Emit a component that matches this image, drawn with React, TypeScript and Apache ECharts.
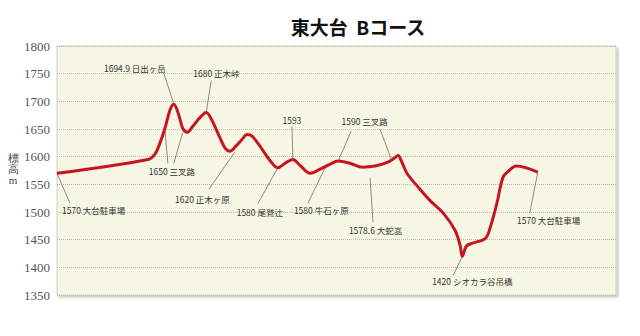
import React, { useEffect, useRef } from "react";
import * as echarts from "echarts";

// Course distance (arbitrary units, 0..100 across the plot) and elevation (m)
const distance = [0, 16.3, 17.5, 18.4, 19.3, 20.2, 20.9, 21.8, 22.5, 23.3, 24.3, 25.6, 26.7, 27.7, 29.2, 30.1, 30.9, 32.0, 33.1, 34.0, 34.9, 36.3, 38.1, 39.5, 40.8, 42.2, 43.5, 45.3, 47.0, 48.8, 50.3, 52.4, 54.7, 56.9, 59.2, 60.3, 61.0, 61.7, 62.6, 64.6, 66.7, 69.1, 71.2, 72.1, 72.5, 73.2, 74.1, 76.6, 77.5, 78.7, 79.8, 80.9, 82.1, 86.0];
const elevation = [1570, 1595, 1604, 1624, 1651, 1684, 1694.9, 1675, 1651, 1644, 1655, 1671, 1680, 1666, 1633, 1615, 1610, 1619, 1631, 1640, 1637, 1619, 1593, 1580, 1588, 1595, 1584, 1570, 1577, 1586, 1592, 1588, 1581, 1583, 1590, 1597, 1602, 1590, 1570, 1545, 1521, 1498, 1467, 1440, 1420, 1438, 1443, 1452, 1472, 1516, 1563, 1575, 1583, 1572];

const titleText = "東大台  Bコース";
const yAxisName = "標\n高\nm";
const yMin = 1350;
const yMax = 1800;
const yStep = 50;

// Annotation texts and the profile points they point at (indices into the arrays above)
const annotationTexts = [
  "1570 大台駐車場",
  "1694.9 日出ヶ岳",
  "1650 三叉路",
  "1680 正木峠",
  "1620 正木ヶ原",
  "1580 尾鷲辻",
  "1593",
  "1580 牛石ヶ原",
  "1590 三叉路",
  "1578.6 大蛇嵓",
  "1420 シオカラ谷吊橋",
  "1570 大台駐車場",
];
const annotationTargets = [[0], [6], [4, 8], [12], [17], [23], [25], [29], [30, 35], [33], [44], [53]];

// Layout only: label offset from first target, leader start/end offsets from each target
const annotationLayout = [
  { dx: 5, dy: 37, align: "left", leaders: [[13, 30, 0, 0]] },
  { dx: -8, dy: -36, align: "right", leaders: [[-10, -31, 0, 0]] },
  { dx: 7, dy: 43, align: "center", leaders: [[3, 35, 0, 0], [-9, 35, 0, 4]] },
  { dx: -13, dy: -39, align: "left", leaders: [[5, -32, 0, 0]] },
  { dx: -6, dy: 53, align: "right", leaders: [[-27, 43, -1, 6]] },
  { dx: -18, dy: 44, align: "center", leaders: [[-20, 36, 0, 0]] },
  { dx: -1, dy: -39, align: "center", leaders: [[-1, -33, 0, 0]] },
  { dx: -8.5, dy: 46, align: "center", leaders: [[-22, 39, -3, 0]] },
  { dx: 26.5, dy: -40, align: "center", leaders: [[13, -30, 0, 0], [-14, -29, -3, 0]] },
  { dx: 0.5, dy: 64, align: "center", leaders: [[-2, 56, -5, 12]] },
  { dx: 10, dy: 25, align: "center", leaders: [[-9, 19, 0, 0]] },
  { dx: 11, dy: 48, align: "center", leaders: [[-8, 41, 0, 0]] },
];

const serif = "'Liberation Serif', 'DejaVu Serif', serif";

export default function App() {
  const ref = useRef<HTMLDivElement>(null);
  useEffect(() => {
    document.body.style.margin = "0";
    if (!ref.current) return;
    const chart = echarts.init(ref.current, undefined, { renderer: "svg" });
    const data = distance.map((d, i) => [d, elevation[i]]);
    chart.setOption({
      animation: false,
      backgroundColor: "#ffffff",
      grid: {
        left: 57,
        right: 24,
        top: 46,
        bottom: 41,
        show: true,
        backgroundColor: "#f5f7e4",
        borderColor: "#cfd0c4",
        borderWidth: 1,
        shadowColor: "rgba(0,0,0,0.22)",
        shadowBlur: 2,
        shadowOffsetX: 2,
        shadowOffsetY: 2,
      },
      xAxis: {
        type: "value",
        min: 0,
        max: 100,
        show: false,
        splitLine: { show: false },
      },
      yAxis: {
        type: "value",
        min: yMin,
        max: yMax,
        interval: yStep,
        axisLine: { show: false },
        axisTick: { show: false },
        axisLabel: {
          margin: 7,
          color: "#555",
          fontFamily: serif,
          fontSize: 13,
          formatter: (v: number) => String(v),
        },
        splitLine: {
          show: true,
          lineStyle: { type: "dotted", color: "#b9bbaa", width: 1 },
        },
      },
      series: [
        {
          type: "line",
          data,
          smooth: 0.35,
          symbol: "none",
          lineStyle: { color: "#c8141e", width: 3 },
          z: 3,
        },
      ],
    });

    const graphics: any[] = [
      {
        type: "text",
        x: 358,
        y: 26,
        style: {
          text: titleText,
          fill: "#111",
          fontFamily: "Noto Sans CJK JP",
          fontWeight: "bold",
          fontSize: 19,
          align: "center",
          verticalAlign: "middle",
        },
      },
      {
        type: "text",
        x: 13,
        y: 169,
        style: {
          text: yAxisName,
          fill: "#444",
          fontFamily: serif,
          fontSize: 11,
          lineHeight: 11,
          align: "center",
          verticalAlign: "middle",
        },
      },
    ];

    annotationTexts.forEach((text, k) => {
      const lay = annotationLayout[k];
      const pts = annotationTargets[k].map((idx) =>
        chart.convertToPixel({ gridIndex: 0 }, [distance[idx], elevation[idx]]) as number[]
      );
      lay.leaders.forEach((l, j) => {
        const p = pts[Math.min(j, pts.length - 1)];
        graphics.push({
          type: "line",
          silent: true,
          z: 1,
          shape: { x1: p[0] + l[0], y1: p[1] + l[1], x2: p[0] + l[2], y2: p[1] + l[3] },
          style: { stroke: "#6f6f6f", lineWidth: 0.8 },
        });
      });
      graphics.push({
        type: "text",
        silent: true,
        z: 5,
        x: pts[0][0] + lay.dx,
        y: pts[0][1] + lay.dy,
        style: {
          text,
          fill: "#333",
          fontFamily: "Noto Sans CJK JP",
          fontSize: 8.5,
          align: lay.align,
          verticalAlign: "middle",
        },
      });
    });

    chart.setOption({ graphic: graphics });
    return () => chart.dispose();
  }, []);
  return <div ref={ref} style={{ width: 640, height: 336 }} />;
}
